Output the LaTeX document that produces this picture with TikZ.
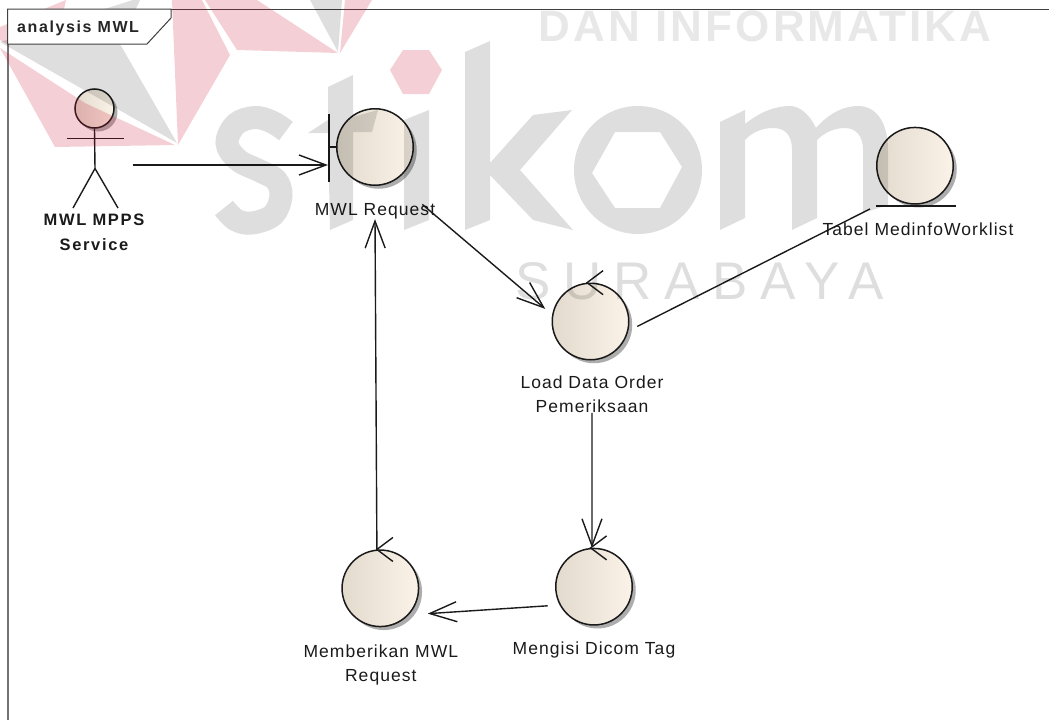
\documentclass[tikz,border=0pt]{standalone}
\usepackage{fontspec}
\setmainfont[LetterSpace=6]{Liberation Sans}
\newfontfamily\tabfont[LetterSpace=10]{Liberation Sans}
\newfontfamily\wmboldfont[LetterSpace=7]{Liberation Sans}
\newfontfamily\wmfont[LetterSpace=23.5]{Liberation Sans}
\usetikzlibrary{positioning, arrows.meta, calc, shadows}
\definecolor{wmred}{HTML}{C8102E}
\definecolor{umlink}{HTML}{1A1A1A}
\definecolor{ballleft}{HTML}{E2DACD}
\definecolor{ballright}{HTML}{FBF3E8}

\begin{document}
\begin{tikzpicture}[
        x=1pt, y=-1pt,
        ball/.style  = {draw=umlink, circle, line width=1.5pt, inner sep=0pt, minimum size=76.5pt,
                        left color=ballleft, middle color=ballright, right color=ballright,
                        drop shadow={shadow xshift=3.5pt, shadow yshift=-3.5pt, fill=black!32, opacity=1}},
        lbl/.style   = {align=center, inner sep=0pt, text=umlink, font=\fontsize{17.5}{24}\selectfont},
        actorlbl/.style = {lbl, font=\fontsize{16.5}{25}\selectfont\tabfont\bfseries},
        bar/.style   = {fill=umlink, inner sep=0pt},
        umlline/.style = {draw=umlink, line width=1.4pt},
        arrow/.style = {umlline, -{Straight Barb[length=27pt, width=20pt]}},
        wmgrey/.style = {fill=black, fill opacity=.13},
        wmpink/.style = {fill=wmred, fill opacity=.2},
    ]
        \useasboundingbox (0,0) rectangle (1049,720);

        % frame
        \draw[line width=2pt, black!55] (7.5,720) -- (7.5,9);
        \draw[line width=1pt, black!75] (7.5,9) -- (1049,9);

        % actor
        \node[ball, minimum size=39pt] (actor) at (94.5,108.5) {};
        \node[actorlbl] (actorlabel) at (94,232.5) {MWL MPPS\\Service};
        \draw[umlline] (actor.south) -- (95,168.5) coordinate (hip) -- (73,208);
        \draw[umlline] (hip) -- (118,208);
        \draw[umlline] (67,138.5) -- (124,138.5);
        \coordinate (actorout) at (132.5,165);

        % boundary, control and entity balls
        \node[ball] (req) at (375,147) {};
        \node[bar, minimum width=1.6pt, minimum height=68pt] (reqbar) at (329,148) {};
        \draw[umlline] (req.west) -- (reqbar.east |- req.west);
        \node[lbl, below=17pt of req] (reqlabel) {MWL Request};

        \node[ball] (tabel) at (915,165.7) {};
        \node[bar, minimum width=80pt, minimum height=1.6pt] (tabelbar) at (916,206) {};
        \node[lbl, below=15.5pt of tabelbar, xshift=2pt] (tabellabel) {Tabel MedinfoWorklist};

        \node[ball] (load) at (590.5,321.5) {};
        \node[lbl, below=15pt of load, xshift=1.5pt] (loadlabel) {Load Data Order\\Pemeriksaan};

        \node[ball] (isi) at (594,586.7) {};
        \node[lbl, below=16pt of isi] (isilabel) {Mengisi Dicom Tag};

        \node[ball] (beri) at (380.3,588.3) {};
        \node[lbl, below=17pt of beri, xshift=0.5pt] (berilabel) {Memberikan MWL\\Request};

        % control heads
        \foreach \ctrl in {load,isi,beri}
            \draw[umlline] ($(\ctrl.95)+(16,-12)$) -- (\ctrl.95) -- ($(\ctrl.95)+(16,12)$);

        % connectors
        \draw[arrow] (actorout) -- (actorout -| reqbar.west);
        \draw[arrow, shorten <=36.5pt, shorten >=9pt] (req.-60) -- (load.170);
        \draw[umlline, shorten <=10pt, shorten >=6.5pt] (load.-14) -- (tabelbar.west);
        \draw[arrow] (loadlabel.south) -- (isi.93);
        \draw[arrow, shorten <=12pt, shorten >=19pt] (isi.208) -- (beri.-43);
        \draw[arrow] (beri.95) -- (reqlabel.south);

        % watermark
        \fill[wmpink] (0,27) -- (66,0) -- (64,9) -- (7,44) -- (0,40) -- cycle;
        \fill[wmpink] (0,48) -- (85,103) -- (175,145) -- (55,147) -- cycle;
        \fill[wmpink] (172,0) -- (202,0) -- (230,55) -- (178,145) -- cycle;
        \fill[wmpink] (205,0) -- (257,0) -- (338,53) -- (237,50) -- cycle;
        \fill[wmpink] (345,0) -- (372,0) -- (340,53) -- cycle;
        \fill[wmpink] (390,70) -- (403,50) -- (429,50) -- (442,70) -- (429,94) -- (403,94) -- cycle;
        \fill[wmgrey] (0,42) -- (133,0) -- (140,0) -- (120,44) -- (177,143) -- cycle;
        \fill[wmgrey] (310,0) -- (342,0) -- (338,52) -- cycle;

        \draw[draw=black, draw opacity=.13, line width=23pt] plot[smooth, tension=.6] coordinates
            {(286,131) (272,122) (255,117.5) (236,124) (227,143) (238,160) (260,171) (276,180) (281,196) (273,215) (252,223) (236,220) (224,208)};
        \fill[wmgrey] (328,87) -- (353,75) -- (353,117) -- (378,110) -- (372,132) -- (353,132) -- (353,220)
            -- (330,230) -- (328,133) -- (308,133) -- (328,120) -- cycle;
        \fill[wmgrey] (404,120) -- (429,110) -- (429,220) -- (404,230) -- cycle;
        \fill[wmgrey] (465,52) -- (490,41) -- (490,163) -- (533,115) -- (572,110) -- (520,170) -- (573,230)
            -- (533,220) -- (490,175) -- (490,220) -- (465,230) -- cycle;
        \fill[wmgrey, even odd rule] (638,170) circle [radius=64]
            (592,173) -- (615,132) -- (660,132) -- (682,167) -- (660,208) -- (615,208) -- cycle;
        \fill[wmgrey] (720,122) -- (745,110) -- (745,124) .. controls (760,112) and (775,106) .. (790,106)
            .. controls (800,106) and (810,115) .. (816,128) .. controls (830,112) and (845,106) .. (858,106)
            .. controls (878,106) and (888,125) .. (888,150) -- (888,205) -- (863,213) -- (863,150)
            .. controls (863,135) and (855,128) .. (845,128) .. controls (835,128) and (825,132) .. (817,140)
            -- (817,218) -- (792,230) -- (792,150) .. controls (792,135) and (785,128) .. (773,128)
            .. controls (763,128) and (752,132) .. (745,140) -- (745,218) -- (720,230) -- cycle;
        \node[text=black, text opacity=.09, inner sep=0pt, font=\fontsize{44}{44}\selectfont\wmboldfont\bfseries] (wmtop) at (765,26) {DAN INFORMATIKA};
        \node[text=black, text opacity=.13, inner sep=0pt, font=\fontsize{53}{53}\selectfont\wmfont] (wmcity) at (699.5,281) {SURABAYA};

        % frame tab
        \draw[draw=black!75, fill=white, line width=1pt] (7.5,9) -- (171,9) -- (171,18) -- (147,44) -- (7.5,44) -- cycle;
        \node[anchor=west, inner sep=0pt, text=black!85, font=\fontsize{16}{16}\selectfont\tabfont\bfseries] (tabtitle) at (17,28) {analysis MWL};
    \end{tikzpicture}
\end{document}
